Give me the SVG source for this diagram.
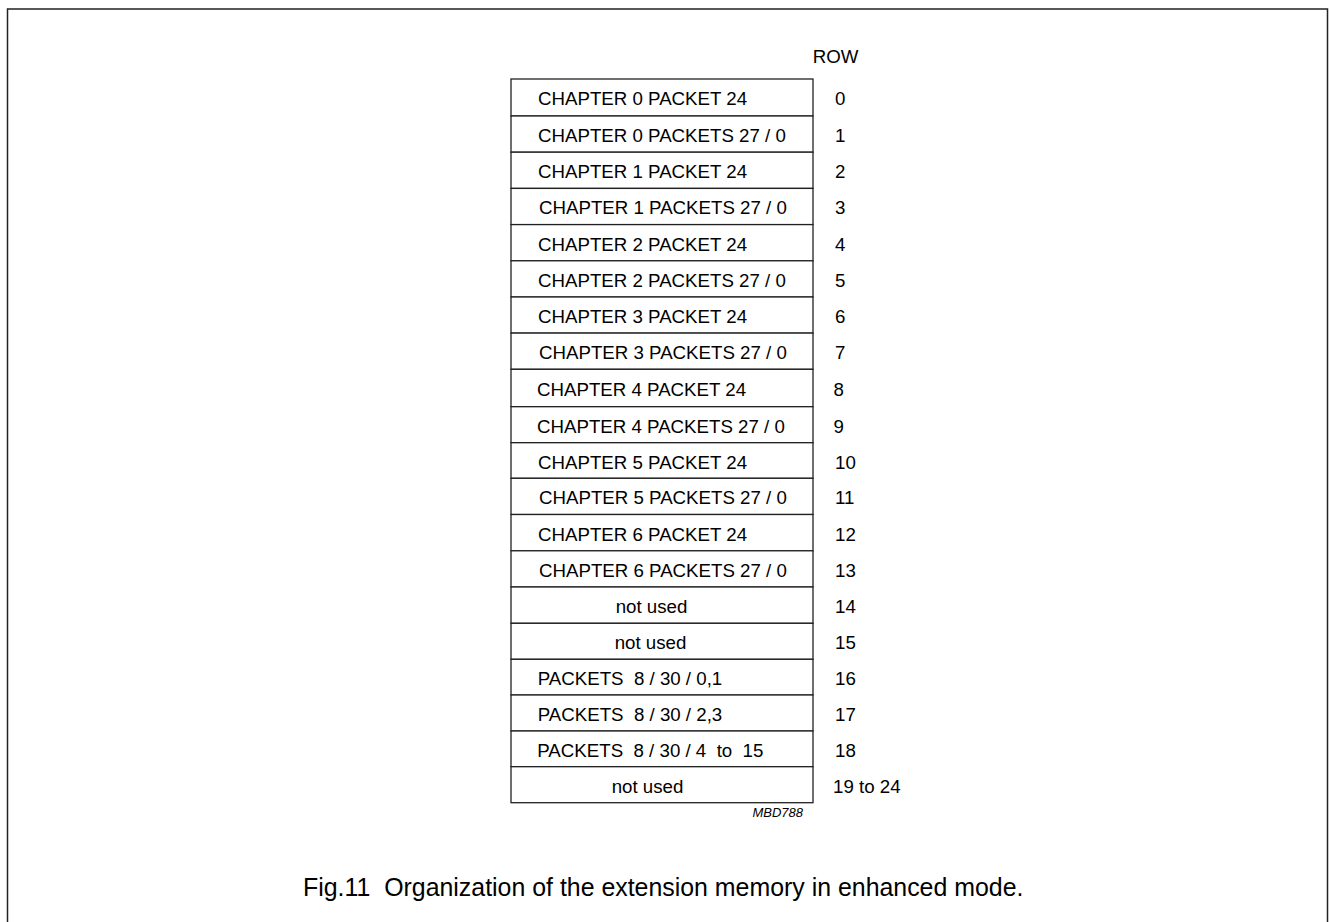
<svg xmlns="http://www.w3.org/2000/svg" width="1329" height="922" viewBox="0 0 1329 922">
<style>
.t{font-family:"Liberation Sans",Arial,sans-serif;font-size:18.7px;fill:#000}
.cell{fill:#fff;stroke:#222;stroke-width:1.3}
.frame{fill:none;stroke:#222;stroke-width:1.5}
.cap{font-family:"Liberation Sans",Arial,sans-serif;font-size:24.9px;fill:#000}
.code{font-family:"Liberation Sans",Arial,sans-serif;font-size:13px;font-style:italic;fill:#000}
</style>
<rect width="1329" height="922" fill="#fff"/>
<path class="frame" d="M7.5,922 V9 H1327.5 V922"/>
<text class="t" x="812.7" y="63.3">ROW</text>
<g id="row0"><rect class="cell" x="511" y="79" width="302" height="37"/><text class="t" x="538" y="105.3">CHAPTER 0 PACKET 24</text><text class="t" x="835" y="105.3">0</text></g>
<g id="row1"><rect class="cell" x="511" y="116" width="302" height="36.2"/><text class="t" x="538" y="141.9">CHAPTER 0 PACKETS 27 / 0</text><text class="t" x="835" y="141.9">1</text></g>
<g id="row2"><rect class="cell" x="511" y="152.2" width="302" height="36.2"/><text class="t" x="538" y="178.1">CHAPTER 1 PACKET 24</text><text class="t" x="835" y="178.1">2</text></g>
<g id="row3"><rect class="cell" x="511" y="188.4" width="302" height="36.2"/><text class="t" x="539" y="214.3">CHAPTER 1 PACKETS 27 / 0</text><text class="t" x="835" y="214.3">3</text></g>
<g id="row4"><rect class="cell" x="511" y="224.6" width="302" height="36.2"/><text class="t" x="538" y="250.5">CHAPTER 2 PACKET 24</text><text class="t" x="835" y="250.5">4</text></g>
<g id="row5"><rect class="cell" x="511" y="260.8" width="302" height="36.2"/><text class="t" x="538" y="286.7">CHAPTER 2 PACKETS 27 / 0</text><text class="t" x="835" y="286.7">5</text></g>
<g id="row6"><rect class="cell" x="511" y="297" width="302" height="36.1"/><text class="t" x="538" y="322.9">CHAPTER 3 PACKET 24</text><text class="t" x="835" y="322.9">6</text></g>
<g id="row7"><rect class="cell" x="511" y="333.1" width="302" height="36.2"/><text class="t" x="539" y="359">CHAPTER 3 PACKETS 27 / 0</text><text class="t" x="835" y="359">7</text></g>
<g id="row8"><rect class="cell" x="511" y="369.3" width="302" height="37.4"/><text class="t" x="537" y="396">CHAPTER 4 PACKET 24</text><text class="t" x="833.5" y="396">8</text></g>
<g id="row9"><rect class="cell" x="511" y="406.7" width="302" height="36"/><text class="t" x="537" y="432.6">CHAPTER 4 PACKETS 27 / 0</text><text class="t" x="833.5" y="432.6">9</text></g>
<g id="row10"><rect class="cell" x="511" y="442.7" width="302" height="35.6"/><text class="t" x="538" y="468.6">CHAPTER 5 PACKET 24</text><text class="t" x="835" y="468.6">10</text></g>
<g id="row11"><rect class="cell" x="511" y="478.3" width="302" height="36.2"/><text class="t" x="539" y="504.3">CHAPTER 5 PACKETS 27 / 0</text><text class="t" x="835" y="504.3">11</text></g>
<g id="row12"><rect class="cell" x="511" y="514.5" width="302" height="36.3"/><text class="t" x="538" y="540.5">CHAPTER 6 PACKET 24</text><text class="t" x="835" y="540.5">12</text></g>
<g id="row13"><rect class="cell" x="511" y="550.8" width="302" height="36.2"/><text class="t" x="539" y="576.7">CHAPTER 6 PACKETS 27 / 0</text><text class="t" x="835" y="576.7">13</text></g>
<g id="row14"><rect class="cell" x="511" y="587" width="302" height="36.3"/><text class="t" x="615.7" y="612.9">not used</text><text class="t" x="835" y="612.9">14</text></g>
<g id="row15"><rect class="cell" x="511" y="623.3" width="302" height="36"/><text class="t" x="614.7" y="649.1">not used</text><text class="t" x="835" y="649.1">15</text></g>
<g id="row16"><rect class="cell" x="511" y="659.3" width="302" height="35.7"/><text class="t" x="537.7" y="685" xml:space="preserve">PACKETS  8 / 30 / 0,1</text><text class="t" x="835" y="685">16</text></g>
<g id="row17"><rect class="cell" x="511" y="695" width="302" height="36"/><text class="t" x="537.7" y="720.8" xml:space="preserve">PACKETS  8 / 30 / 2,3</text><text class="t" x="835" y="720.8">17</text></g>
<g id="row18"><rect class="cell" x="511" y="731" width="302" height="35.7"/><text class="t" x="537.3" y="756.7" xml:space="preserve">PACKETS  8 / 30 / 4  to  15</text><text class="t" x="835" y="756.7">18</text></g>
<g id="row19"><rect class="cell" x="511" y="766.7" width="302" height="36"/><text class="t" x="611.7" y="792.5">not used</text><text class="t" x="833" y="792.5">19 to 24</text></g>
<text class="code" x="803" y="817" text-anchor="end">MBD788</text>
<text class="cap" x="303" y="895.5" xml:space="preserve">Fig.11  Organization of the extension memory in enhanced mode.</text>
<g id="connectors"/>
</svg>
